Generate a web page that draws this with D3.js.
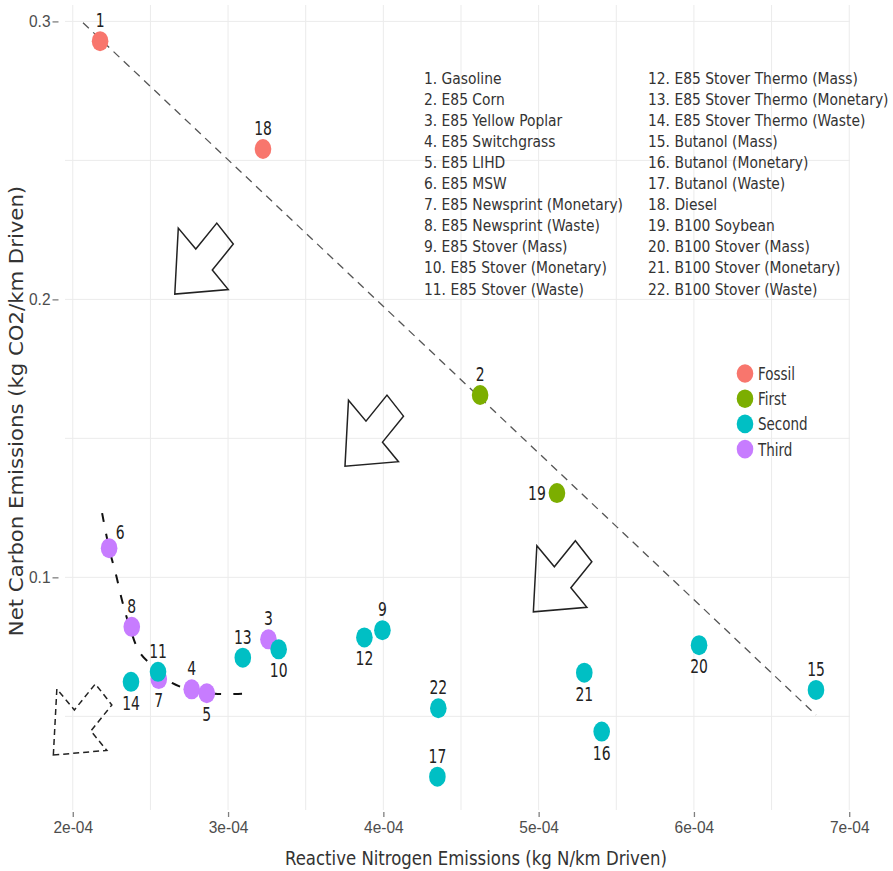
<!DOCTYPE html>
<html>
<head>
<meta charset="utf-8">
<script src="https://cdn.jsdelivr.net/npm/d3@7"></script>
<style>
body { margin: 0; background: #fff; }
svg { display: block; font-family: "DejaVu Sans Condensed", "DejaVu Sans", sans-serif; }
</style>
</head>
<body>
<div id="chart"></div>
<script>
// fuel pathways, numbered as in the list
var ids = [1, 2, 3, 4, 5, 6, 7, 8, 9, 10, 11, 12, 13, 14, 15, 16, 17, 18, 19, 20, 21, 22];
var groups = ["Fossil", "First", "Third", "Third", "Third", "Third", "Third", "Third", "Second", "Second", "Second",
	"Second", "Second", "Second", "Second", "Second", "Second", "Fossil", "First", "Second", "Second", "Second"];
// kg N / km driven
var nitrogen = [2.176e-4, 4.623e-4, 3.26e-4, 2.766e-4, 2.863e-4, 2.234e-4, 2.554e-4, 2.38e-4, 3.994e-4, 3.326e-4, 2.549e-4,
	3.878e-4, 3.095e-4, 2.375e-4, 6.786e-4, 5.406e-4, 4.348e-4, 3.225e-4, 5.118e-4, 6.033e-4, 5.294e-4, 4.354e-4];
// kg CO2 / km driven
var carbon = [0.2929, 0.1656, 0.0777, 0.0597, 0.0583, 0.1105, 0.0634, 0.0822, 0.0810, 0.0741, 0.0660,
	0.0784, 0.0711, 0.0624, 0.0595, 0.0445, 0.0283, 0.2541, 0.1303, 0.0756, 0.0657, 0.0529];
var labelSide = ["up", "up", "up", "up", "down", "upright", "down", "up", "up", "down", "up",
	"down", "up", "down", "up", "down", "up", "up", "left", "down", "down", "up"];
var names = ["Gasoline", "E85 Corn", "E85 Yellow Poplar", "E85 Switchgrass", "E85 LIHD", "E85 MSW",
	"E85 Newsprint (Monetary)", "E85 Newsprint (Waste)", "E85 Stover (Mass)", "E85 Stover (Monetary)",
	"E85 Stover (Waste)", "E85 Stover Thermo (Mass)", "E85 Stover Thermo (Monetary)", "E85 Stover Thermo (Waste)",
	"Butanol (Mass)", "Butanol (Monetary)", "Butanol (Waste)", "Diesel", "B100 Soybean", "B100 Stover (Mass)",
	"B100 Stover (Monetary)", "B100 Stover (Waste)"];
var groupNames = ["Fossil", "First", "Second", "Third"];
var groupColors = ["#F8766D", "#7CAE00", "#00BFC4", "#C77CFF"];

// axis ticks
var xTicks = [2e-4, 3e-4, 4e-4, 5e-4, 6e-4, 7e-4];
var xTickLabels = ["2e-04", "3e-04", "4e-04", "5e-04", "6e-04", "7e-04"];
var xMinor = [2.5e-4, 3.5e-4, 4.5e-4, 5.5e-4, 6.5e-4];
var yTicks = [0.1, 0.2, 0.3];
var yTickLabels = ["0.1", "0.2", "0.3"];
var yMinor = [0.05, 0.15, 0.25];

// dashed trade-off line (fossil to butanol)
var frontX = [2.066e-4, 6.786e-4];
var frontY = [0.2995, 0.0505];
// dashed curve along third generation fuels
var thirdX = [2.189e-4, 2.234e-4, 2.279e-4, 2.317e-4, 2.369e-4, 2.433e-4, 2.53e-4, 2.639e-4, 2.768e-4, 2.916e-4, 3.09e-4];
var thirdY = [0.1231, 0.1105, 0.1008, 0.0918, 0.0817, 0.0728, 0.0674, 0.062, 0.0595, 0.0581, 0.0581];
// block arrows, tip position
var arrowX = [2.657e-4, 3.753e-4, 4.966e-4, 1.875e-4];
var arrowY = [0.2019, 0.14, 0.0876, 0.0361];
var arrowDashed = [false, false, false, true];

var W = 893, H = 871;
var svg = d3.select("#chart").append("svg").attr("width", W).attr("height", H);

var x = d3.scaleLinear().domain([1.95e-4, 7.005e-4]).range([65, 850]);
var y = d3.scaleLinear().domain([0.0163, 0.3059]).range([810, 5]);
var color = d3.scaleOrdinal().domain(groupNames).range(groupColors);

//grid
var grid = svg.append("g");
grid.selectAll(".vx").data(xTicks.concat(xMinor)).enter().append("line")
	.attr("x1", function(d){return x(d)}).attr("x2", function(d){return x(d)})
	.attr("y1", 5).attr("y2", 810)
	.attr("stroke", "#ebebeb").attr("stroke-width", 1);
grid.selectAll(".hy").data(yTicks.concat(yMinor)).enter().append("line")
	.attr("y1", function(d){return y(d)}).attr("y2", function(d){return y(d)})
	.attr("x1", 65).attr("x2", 850)
	.attr("stroke", "#ebebeb").attr("stroke-width", 1);

//axes
var xAxis = d3.axisBottom(x).tickValues(xTicks).tickSize(5).tickPadding(3)
	.tickFormat(function(d, i){return xTickLabels[i]});
var gx = svg.append("g").attr("transform", "translate(0,812)").call(xAxis);
var yAxis = d3.axisLeft(y).tickValues(yTicks).tickSize(6).tickPadding(2)
	.tickFormat(function(d, i){return yTickLabels[i]});
var gy = svg.append("g").attr("transform", "translate(58.5,0)").call(yAxis);
[gx, gy].forEach(function(g) {
	g.select(".domain").remove();
	g.selectAll(".tick line").attr("stroke", "#7f7f7f").attr("stroke-width", 1.3);
	g.selectAll(".tick text").attr("fill", "#4d4d4d").attr("transform", "scale(1,1.1)")
		.style("font-size", "15.5px").style("font-family", null);
});

svg.append("text").attr("transform", "translate(476,865) scale(1,1.1)")
	.attr("text-anchor", "middle").attr("fill", "#333").style("font-size", "18.4px")
	.text("Reactive Nitrogen Emissions (kg N/km Driven)");
svg.append("text").attr("transform", "translate(23,411) rotate(-90) scale(1.18,1)")
	.attr("text-anchor", "middle").attr("fill", "#333").style("font-size", "20px")
	.text("Net Carbon Emissions (kg CO2/km Driven)");

//dashed lines
var line = d3.line().x(function(d){return x(d[0])}).y(function(d){return y(d[1])});
svg.append("path").attr("d", line(d3.zip(frontX, frontY)))
	.attr("fill", "none").attr("stroke", "#555").attr("stroke-width", 1.3).attr("stroke-dasharray", "8,6");
svg.append("path").attr("d", line.curve(d3.curveCatmullRom)(d3.zip(thirdX, thirdY)))
	.attr("fill", "none").attr("stroke", "#111").attr("stroke-width", 2).attr("stroke-dasharray", "9,12");

//arrows (shape drawn in pixels from the tip)
var arrowShape = [[0, 0], [3.5, -66], [21, -45], [42, -71], [58.5, -50], [37.5, -24], [53.5, -4.5]];
for (var a = 0; a < arrowX.length; a++) {
	var tx = x(arrowX[a]), ty = y(arrowY[a]);
	svg.append("polygon")
		.attr("points", arrowShape.map(function(p){return (tx + p[0]) + "," + (ty + p[1])}).join(" "))
		.attr("fill", "none").attr("stroke", "#222").attr("stroke-width", 1.5)
		.attr("stroke-linejoin", "miter")
		.attr("stroke-dasharray", arrowDashed[a] ? "6,4" : null);
}

//points
var pts = ids.map(function(id, i) {
	return {id: id, group: groups[i], x: nitrogen[i], y: carbon[i], side: labelSide[i]};
});
svg.append("g").selectAll("ellipse").data(pts).enter().append("ellipse")
	.attr("cx", function(d){return x(d.x)}).attr("cy", function(d){return y(d.y)})
	.attr("rx", 8.3).attr("ry", 10)
	.attr("fill", function(d){return color(d.group)});

var off = {up: [0, -21], down: [0, 21], upright: [11, -16], left: [-20, 0]};
svg.append("g").selectAll("text").data(pts).enter().append("text")
	.attr("transform", function(d) {
		return "translate(" + (x(d.x) + off[d.side][0]) + "," + (y(d.y) + off[d.side][1]) + ") scale(1,1.25)";
	})
	.attr("dy", "0.36em").attr("text-anchor", "middle")
	.attr("fill", "#222").style("font-size", "15.5px")
	.text(function(d){return d.id});

//numbered list
var list = svg.append("g").attr("fill", "#333").style("font-size", "15.4px");
names.forEach(function(n, i) {
	var col = i < 11 ? 0 : 1;
	list.append("text")
		.attr("x", col ? 648 : 424).attr("y", 78 + (i % 11) * 21.1)
		.attr("dy", "0.36em")
		.text((i + 1) + ". " + n);
});

//legend
var leg = svg.append("g").selectAll("g").data(groupNames).enter().append("g")
	.attr("transform", function(d, i){return "translate(745," + (373.5 + i * 25.2) + ")"});
leg.append("ellipse").attr("rx", 8.3).attr("ry", 9.3).attr("fill", function(d){return color(d)});
leg.append("text").attr("transform", "translate(13,0) scale(1,1.2)").attr("dy", "0.36em")
	.attr("fill", "#333").style("font-size", "15px")
	.text(function(d){return d});
</script>
</body>
</html>
